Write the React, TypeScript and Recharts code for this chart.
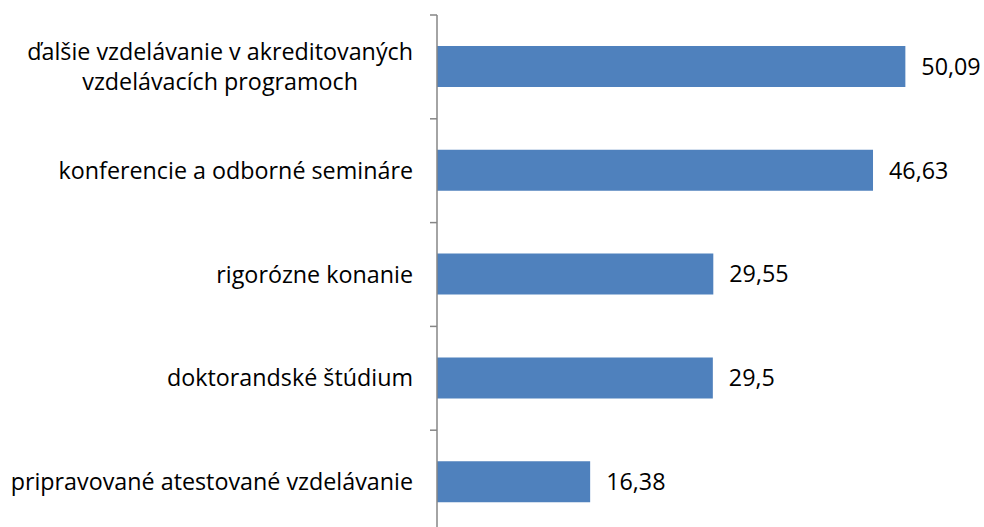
import { BarChart, Bar, XAxis, YAxis, LabelList } from 'recharts'

const categories = [
  'ďalšie vzdelávanie v akreditovaných|vzdelávacích programoch',
  'konferencie a odborné semináre',
  'rigorózne konanie',
  'doktorandské štúdium',
  'pripravované atestované vzdelávanie',
]
const values = [50.09, 46.63, 29.55, 29.5, 16.38]

const data = categories.map((name, i) => ({ name, value: values[i] }))

const W = 984
const H = 540
const M = { top: 15, right: 0, bottom: 6, left: 0 }
const BAND = (H - M.top - M.bottom) / data.length
const FONT = '"Open Sans", sans-serif'
const FS = 23.3

function textWidth(s: string) {
  const c = document.createElement('canvas').getContext('2d')
  if (!c) return s.length * 11
  c.font = `${FS}px ${FONT}`
  return c.measureText(s).width
}

function CategoryTick(props: any) {
  const { x, y, payload } = props
  const lines = String(payload.value).split('|')
  const right = x - 24
  const top = y - BAND / 2
  const w = textWidth(lines[0])
  return (
    <g>
      <line x1={x - 7} x2={x} y1={top} y2={top} stroke="#868686" strokeWidth={1.5} />
      {lines.length === 1 ? (
        <text x={right} y={y} dy="0.35em" textAnchor="end" fontSize={FS} fontFamily={FONT} fill="#000">
          {lines[0]}
        </text>
      ) : (
        lines.map((l, i) => (
          <text
            key={i}
            x={right - w / 2}
            y={y + (i - (lines.length - 1) / 2) * 30}
            dy="0.35em"
            textAnchor="middle"
            fontSize={FS}
            fontFamily={FONT}
            fill="#000"
          >
            {l}
          </text>
        ))
      )}
    </g>
  )
}

export default function App() {
  return (
    <div style={{ position: 'absolute', left: 0, top: 0, width: W, height: 527, overflow: 'hidden', background: '#fff' }}>
      <BarChart width={W} height={H} data={data} layout="vertical" margin={M}>
        <XAxis type="number" domain={[0, 58.5]} hide />
        <YAxis
          type="category"
          dataKey="name"
          width={437}
          axisLine={{ stroke: '#868686', strokeWidth: 1.5 }}
          tickLine={false}
          tickSize={0}
          tickMargin={0}
          tick={<CategoryTick />}
          interval={0}
        />
        <Bar dataKey="value" fill="#4F81BD" barSize={41} isAnimationActive={false}>
          <LabelList
            dataKey="value"
            position="right"
            offset={16}
            formatter={(v: any) => String(v).replace('.', ',')}
            style={{ fontSize: FS, fontFamily: FONT, fill: '#000' }}
          />
        </Bar>
      </BarChart>
    </div>
  )
}
